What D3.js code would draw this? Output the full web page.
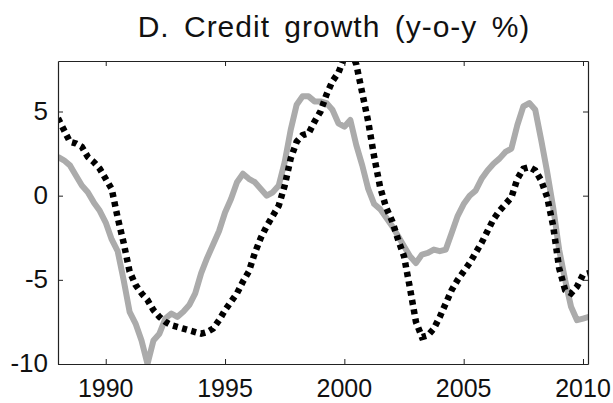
<!DOCTYPE html>
<html>
<head>
<meta charset="utf-8">
<script src="https://cdn.jsdelivr.net/npm/d3@7"></script>
<style>
  html, body { margin: 0; padding: 0; background: #fff; }
  svg { display: block; }
  text { font-family: "Liberation Sans", Arial, sans-serif; fill: #111; }
</style>
</head>
<body>
<svg id="chart" width="613" height="403"></svg>
<script>
// ---- Data (quarterly, 1988Q1 onwards) ----
const title = "D. Credit growth (y-o-y %)";
const startYear = 1988;
const xTickValues = [1990, 1995, 2000, 2005, 2010];
const yTickValues = [-10, -5, 0, 5];

// grey solid series
const seriesGrey = [
  2.3, 2.1, 1.8, 1.2, 0.6, 0.2, -0.4, -0.9,
  -1.6, -2.6, -3.3, -5.0, -6.9, -7.6, -8.6, -10.0,
  -8.6, -8.2, -7.3, -7.0, -7.2, -6.9, -6.5, -5.8,
  -4.6, -3.7, -2.9, -2.1, -1.0, -0.2, 0.8, 1.3,
  1.0, 0.8, 0.4, 0.0, 0.2, 0.6, 2.0, 3.9,
  5.4, 5.9, 5.9, 5.6, 5.6, 5.5, 5.1, 4.3,
  4.1, 4.5, 3.0, 1.8, 0.4, -0.5, -0.8, -1.3,
  -1.8, -2.4, -3.0, -3.6, -4.0, -3.5, -3.4, -3.2,
  -3.3, -3.2, -2.2, -1.2, -0.5, 0.0, 0.3, 1.0,
  1.5, 1.9, 2.2, 2.6, 2.8, 4.2, 5.3, 5.5,
  5.1, 3.3, 1.4, -0.7, -3.2, -5.0, -6.6, -7.4,
  -7.3, -7.2
];

// black dotted series
const seriesBlack = [
  4.6, 3.9, 3.2, 3.1, 2.9, 2.3, 2.0, 1.6,
  1.0, 0.4, -1.3, -2.8, -4.5, -5.3, -5.8, -6.2,
  -6.8, -7.2, -7.5, -7.7, -7.8, -7.9, -8.0, -8.1,
  -8.2, -8.1, -7.9, -7.4, -6.8, -6.3, -5.8, -5.1,
  -4.5, -3.4, -2.5, -1.8, -1.2, -0.6, 0.6, 2.2,
  3.2, 3.6, 3.7, 4.4, 5.0, 6.0, 6.8, 7.3,
  8.2, 8.7, 7.8, 6.1, 4.4, 2.3, 0.5, -0.7,
  -1.5, -2.6, -3.6, -5.5, -7.5, -8.4, -8.3, -7.9,
  -7.2, -6.4, -5.6, -5.0, -4.5, -4.0, -3.4, -2.8,
  -2.1, -1.4, -0.9, -0.5, -0.1, 1.0, 1.6, 1.7,
  1.5, 0.9, -0.1, -1.8, -4.3, -5.6, -5.8, -5.4,
  -4.7, -4.6
];

const dates = seriesGrey.map((_, i) => startYear + i / 4);

// ---- Layout ----
const svg = d3.select("#chart");
const plot = { left: 58, right: 588, top: 61, bottom: 364 };

const x = d3.scaleLinear().domain([1988, 2010.21]).range([plot.left, plot.right]);
const y = d3.scaleLinear().domain([-10, 8]).range([plot.bottom, plot.top]);

svg.append("rect").attr("width", 613).attr("height", 403).attr("fill", "#fff");

// Title
svg.append("text")
  .attr("x", 334).attr("y", 37)
  .attr("text-anchor", "middle")
  .attr("font-size", 30)
  .style("letter-spacing", "1px")
  .style("word-spacing", "5px")
  .text(title);

// clip
svg.append("clipPath").attr("id", "clip")
  .append("rect")
  .attr("x", plot.left).attr("y", plot.top)
  .attr("width", plot.right - plot.left).attr("height", plot.bottom - plot.top);

const line = (vals) => d3.line()
  .x((d, i) => x(dates[i]))
  .y(d => y(d))(vals);

const g = svg.append("g").attr("clip-path", "url(#clip)");
g.append("path")
  .attr("d", line(seriesGrey))
  .attr("fill", "none")
  .attr("stroke", "#ababab")
  .attr("stroke-width", 6)
  .attr("stroke-linejoin", "round");

g.append("path")
  .attr("d", line(seriesBlack))
  .attr("fill", "none")
  .attr("stroke", "#000")
  .attr("stroke-width", 6.5)
  .attr("stroke-dasharray", "5,4.5")
  .attr("stroke-linejoin", "miter");

// Axes (inward ticks, box)
const tickLen = 5;
const axB = d3.axisBottom(x).tickValues(xTickValues).tickSizeInner(-tickLen).tickSizeOuter(0).tickFormat("");
const axT = d3.axisTop(x).tickValues(xTickValues).tickSizeInner(-tickLen).tickSizeOuter(0).tickFormat("");
const axL = d3.axisLeft(y).tickValues(yTickValues).tickSizeInner(-tickLen).tickSizeOuter(0).tickFormat("");
const axR = d3.axisRight(y).tickValues(yTickValues).tickSizeInner(-tickLen).tickSizeOuter(0).tickFormat("");

const styleAxis = sel => {
  sel.selectAll("path").attr("stroke", "#222").attr("stroke-width", 1.2);
  sel.selectAll("line").attr("stroke", "#222").attr("stroke-width", 1);
};
svg.append("g").attr("transform", `translate(0,${plot.bottom})`).call(axB).call(styleAxis);
svg.append("g").attr("transform", `translate(0,${plot.top})`).call(axT).call(styleAxis);
svg.append("g").attr("transform", `translate(${plot.left},0)`).call(axL).call(styleAxis);
svg.append("g").attr("transform", `translate(${plot.right},0)`).call(axR).call(styleAxis);

// Tick labels
svg.append("g").selectAll("text").data(xTickValues).join("text")
  .attr("x", d => x(d)).attr("y", 397)
  .attr("text-anchor", "middle")
  .attr("font-size", 25)
  .text(d => d);

svg.append("g").selectAll("text").data(yTickValues).join("text")
  .attr("x", 48).attr("y", d => y(d) + 8)
  .attr("text-anchor", "end")
  .attr("font-size", 26)
  .text(d => d);
</script>
</body>
</html>
